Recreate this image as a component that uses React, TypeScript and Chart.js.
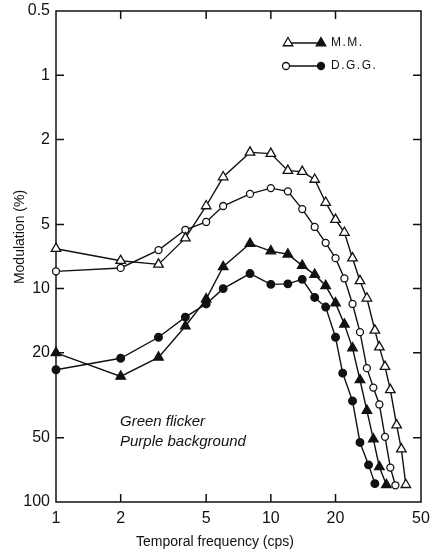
import React, { useEffect, useRef } from 'react';
import { Chart, registerables } from 'chart.js';

Chart.register(...registerables);

const W = 432;
const H = 553;
const FONT = '"Liberation Sans", Arial, sans-serif';
const INK = '#111111';

// Axis ticks
const xTickValues = [1, 2, 5, 10, 20, 50];
const xTickLabels = ['1', '2', '5', '10', '20', '50'];
const yTickValues = [0.5, 1, 2, 5, 10, 20, 50, 100];
const yTickLabels = ['0.5', '1', '2', '5', '10', '20', '50', '100'];

// M.M. – open triangles (upper curve)
const mmOpenFreq = [1, 2, 3, 4, 5, 6, 8, 10, 12, 14, 16, 18, 20, 22, 24, 26, 28, 30.5, 32, 34, 36, 38.5, 40.5, 42.5];
const mmOpenMod = [6.5, 7.4, 7.7, 5.8, 4.1, 3.0, 2.3, 2.33, 2.8, 2.83, 3.08, 3.95, 4.75, 5.46, 7.2, 9.2, 11.1, 15.7, 18.8, 23.2, 29.8, 43.6, 56.5, 83];

// D.G.G. – open circles (upper curve)
const dgOpenFreq = [1, 2, 3, 4, 5, 6, 8, 10, 12, 14, 16, 18, 20, 22, 24, 26, 28, 30, 32, 34, 36, 38];
const dgOpenMod = [8.3, 8.0, 6.6, 5.3, 4.87, 4.1, 3.6, 3.38, 3.5, 4.24, 5.14, 6.1, 7.2, 8.96, 11.8, 16, 23.6, 29.1, 34.9, 49.5, 69, 83.5];

// M.M. – filled triangles (lower curve)
const mmFilledFreq = [1, 2, 3, 4, 5, 6, 8, 10, 12, 14, 16, 18, 20, 22, 24, 26, 28, 30, 32, 34.5];
const mmFilledMod = [20, 25.8, 21, 15, 11.2, 7.9, 6.15, 6.67, 6.9, 7.8, 8.6, 9.7, 11.7, 14.7, 19, 26.8, 37.3, 50.7, 68.5, 83];

// D.G.G. – filled circles (lower curve)
const dgFilledFreq = [1, 2, 3, 4, 5, 6, 8, 10, 12, 14, 16, 18, 20, 21.6, 24, 26, 28.5, 30.5];
const dgFilledMod = [24, 21.2, 16.9, 13.6, 11.8, 10.0, 8.5, 9.55, 9.5, 9.05, 11.0, 12.2, 16.9, 24.9, 33.6, 52.6, 67, 82];

const pts = (xs: number[], ys: number[]) => xs.map((x, i) => ({ x, y: ys[i] }));

function triangle(ctx: CanvasRenderingContext2D, x: number, y: number, r: number, fill: string) {
  ctx.beginPath();
  let rad = 0;
  ctx.moveTo(x + Math.sin(rad) * r, y - Math.cos(rad) * r);
  rad += (2 * Math.PI) / 3;
  ctx.lineTo(x + Math.sin(rad) * r, y - Math.cos(rad) * r);
  rad += (2 * Math.PI) / 3;
  ctx.lineTo(x + Math.sin(rad) * r, y - Math.cos(rad) * r);
  ctx.closePath();
  ctx.fillStyle = fill;
  ctx.fill();
  ctx.stroke();
}

function circle(ctx: CanvasRenderingContext2D, x: number, y: number, r: number, fill: string) {
  ctx.beginPath();
  ctx.arc(x, y, r, 0, Math.PI * 2);
  ctx.fillStyle = fill;
  ctx.fill();
  ctx.stroke();
}

const framePlugin = {
  id: 'frame',
  beforeDatasetsDraw(chart: any) {
    const { ctx, chartArea: a, scales } = chart;
    const xs = scales.x;
    const ys = scales.y;
    ctx.save();
    ctx.strokeStyle = INK;
    ctx.lineWidth = 1.5;
    ctx.strokeRect(a.left, a.top, a.right - a.left, a.bottom - a.top);
    const tl = 8;
    ctx.beginPath();
    for (const v of xTickValues) {
      if (v === 1 || v === 50) continue;
      const px = xs.getPixelForValue(v);
      ctx.moveTo(px, a.bottom);
      ctx.lineTo(px, a.bottom - tl);
      ctx.moveTo(px, a.top);
      ctx.lineTo(px, a.top + tl);
    }
    for (const v of yTickValues) {
      if (v === 0.5 || v === 100) continue;
      const py = ys.getPixelForValue(v);
      ctx.moveTo(a.left, py);
      ctx.lineTo(a.left + tl, py);
      ctx.moveTo(a.right, py);
      ctx.lineTo(a.right - tl, py);
    }
    ctx.stroke();
    ctx.restore();
  },
  afterDraw(chart: any) {
    const { ctx } = chart;
    ctx.save();
    ctx.fillStyle = INK;
    ctx.strokeStyle = INK;
    ctx.lineWidth = 1.3;

    // Axis titles
    ctx.font = `14px ${FONT}`;
    ctx.textAlign = 'center';
    ctx.textBaseline = 'middle';
    ctx.fillText('Temporal frequency (cps)', 215, 542);
    ctx.save();
    ctx.translate(20, 237);
    ctx.rotate(-Math.PI / 2);
    ctx.fillText('Modulation (%)', 0, 0);
    ctx.restore();

    // Legend
    const lx0 = 288;
    const lx1 = 321;
    const rows = [
      { y: 43, label: 'M.M.', shape: 'tri' },
      { y: 66, label: 'D.G.G.', shape: 'circ' },
    ];
    for (const r of rows) {
      ctx.beginPath();
      ctx.moveTo(lx0, r.y);
      ctx.lineTo(lx1, r.y);
      ctx.stroke();
      if (r.shape === 'tri') {
        triangle(ctx, lx0, r.y, 5.5, '#ffffff');
        triangle(ctx, lx1, r.y, 5.5, INK);
      } else {
        circle(ctx, lx0 - 2, r.y, 3.5, '#ffffff');
        circle(ctx, lx1, r.y, 3.5, INK);
      }
      ctx.fillStyle = INK;
      ctx.font = `12px ${FONT}`;
      ctx.textAlign = 'left';
      ctx.textBaseline = 'middle';
      (ctx as any).letterSpacing = '1.5px';
      ctx.fillText(r.label, 331, r.y);
      (ctx as any).letterSpacing = '0px';
    }

    // Annotation
    ctx.font = `italic 15px ${FONT}`;
    ctx.textAlign = 'left';
    ctx.textBaseline = 'middle';
    ctx.fillText('Green flicker', 120, 422);
    ctx.fillText('Purple background', 120, 442);
    ctx.restore();
  },
};

export default function App() {
  const ref = useRef<HTMLCanvasElement | null>(null);

  useEffect(() => {
    if (!ref.current) return;
    const common = {
      borderColor: INK,
      borderWidth: 1.4,
      pointBorderColor: INK,
      pointBorderWidth: 1.3,
      showLine: true,
      tension: 0,
      clip: false as any,
    };
    const chart = new Chart(ref.current, {
      type: 'scatter',
      data: {
        datasets: [
          {
            ...common,
            label: 'M.M. (open)',
            data: pts(mmOpenFreq, mmOpenMod),
            pointStyle: 'triangle',
            pointRadius: 5.5,
            pointBackgroundColor: '#ffffff',
          },
          {
            ...common,
            label: 'D.G.G. (open)',
            data: pts(dgOpenFreq, dgOpenMod),
            pointStyle: 'circle',
            pointRadius: 3.5,
            pointBackgroundColor: '#ffffff',
          },
          {
            ...common,
            label: 'M.M. (filled)',
            data: pts(mmFilledFreq, mmFilledMod),
            pointStyle: 'triangle',
            pointRadius: 5.5,
            pointBackgroundColor: INK,
          },
          {
            ...common,
            label: 'D.G.G. (filled)',
            data: pts(dgFilledFreq, dgFilledMod),
            pointStyle: 'circle',
            pointRadius: 3.8,
            pointBackgroundColor: INK,
          },
        ],
      },
      options: {
        responsive: false,
        animation: false,
        layout: { padding: { top: 11, right: 11, left: 0, bottom: 0 } },
        plugins: {
          legend: { display: false },
          tooltip: { enabled: false },
          title: { display: false },
        },
        scales: {
          x: {
            type: 'logarithmic',
            min: 1,
            max: 50,
            afterBuildTicks: (s: any) => {
              s.ticks = xTickValues.map((v) => ({ value: v }));
            },
            afterFit: (s: any) => {
              s.height = 51;
              s.paddingLeft = 0;
              s.paddingRight = 0;
            },
            ticks: {
              autoSkip: false,
              maxRotation: 0,
              padding: 7,
              color: INK,
              font: { family: FONT, size: 16 },
              callback: (v: any) => {
                const i = xTickValues.indexOf(Number(v));
                return i >= 0 ? xTickLabels[i] : '';
              },
            },
            grid: { display: false, drawTicks: false },
            border: { display: false },
          },
          y: {
            type: 'logarithmic',
            reverse: true,
            min: 0.5,
            max: 100,
            afterBuildTicks: (s: any) => {
              s.ticks = yTickValues.map((v) => ({ value: v }));
            },
            afterFit: (s: any) => {
              s.width = 56;
              s.paddingTop = 0;
              s.paddingBottom = 0;
            },
            ticks: {
              autoSkip: false,
              padding: 6,
              color: INK,
              font: { family: FONT, size: 16 },
              callback: (v: any) => {
                const i = yTickValues.indexOf(Number(v));
                return i >= 0 ? yTickLabels[i] : '';
              },
            },
            grid: { display: false, drawTicks: false },
            border: { display: false },
          },
        },
      } as any,
      plugins: [framePlugin],
    });
    return () => chart.destroy();
  }, []);

  return (
    <div style={{ position: 'absolute', left: 0, top: 0, width: W, height: H, background: '#ffffff' }}>
      <canvas ref={ref} width={W} height={H} style={{ display: 'block', width: W, height: H }} />
    </div>
  );
}
